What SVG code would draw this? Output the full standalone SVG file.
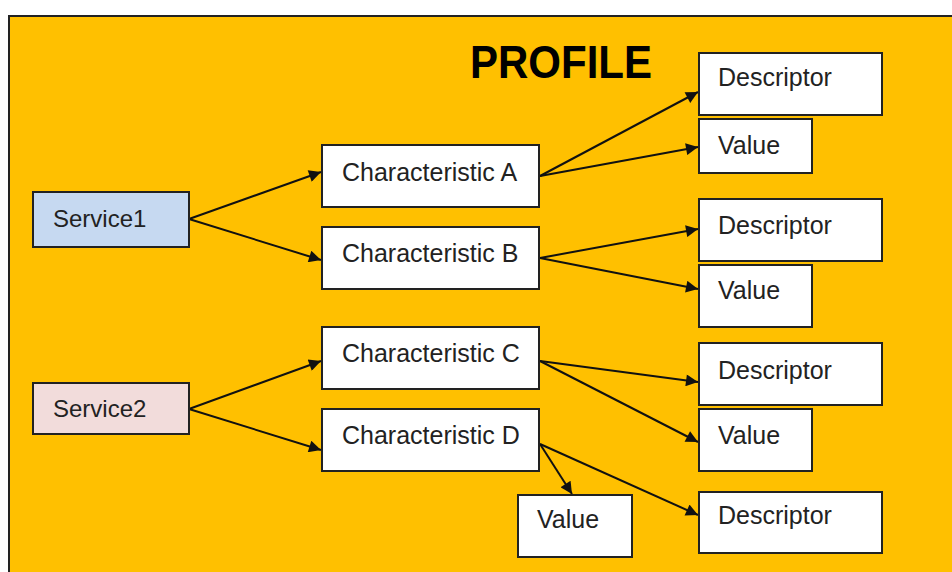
<svg xmlns="http://www.w3.org/2000/svg" width="952" height="572" viewBox="0 0 952 572">
<defs>
<style>
.bg{fill:#FFC000;stroke:#222;stroke-width:2}
.box{fill:#FFFFFF;stroke:#222;stroke-width:2}
.s1{fill:#C6D9F1;stroke:#222;stroke-width:2}
.s2{fill:#F2DCDB;stroke:#222;stroke-width:2}
.t{font-family:"Liberation Sans",Arial,sans-serif;font-size:25px;fill:#222}
.ts{font-family:"Liberation Sans",Arial,sans-serif;font-size:24px;fill:#222}
.title{font-family:"Liberation Sans",Arial,sans-serif;font-size:46px;font-weight:bold;fill:#000}
.c{stroke:#111;stroke-width:2;fill:none;marker-end:url(#arr)}
</style>
<marker id="arr" viewBox="0 0 10 10" refX="10" refY="5" markerWidth="7" markerHeight="6" markerUnits="strokeWidth" orient="auto">
<path d="M0,0 L10,5 L0,10 z" fill="#111"/>
</marker>
</defs>
<rect width="952" height="572" fill="#FFFFFF"/>
<rect class="bg" x="9" y="16" width="960" height="580"/>
<text class="title" x="470" y="78" textLength="182" lengthAdjust="spacingAndGlyphs">PROFILE</text>

<g id="connectors">
<line class="c" x1="189" y1="219" x2="321" y2="172"/>
<line class="c" x1="189" y1="219" x2="321" y2="260"/>
<line class="c" x1="189" y1="409" x2="321" y2="361"/>
<line class="c" x1="189" y1="409" x2="321" y2="450"/>
<line class="c" x1="540" y1="176" x2="698" y2="92"/>
<line class="c" x1="540" y1="176" x2="698" y2="147"/>
<line class="c" x1="540" y1="258" x2="698" y2="229"/>
<line class="c" x1="540" y1="258" x2="698" y2="289"/>
<line class="c" x1="540" y1="361" x2="698" y2="382"/>
<line class="c" x1="540" y1="361" x2="698" y2="442"/>
<line class="c" x1="540" y1="444" x2="698" y2="515"/>
<line class="c" x1="540" y1="444" x2="572" y2="494"/>
</g>

<g id="service1"><rect class="s1" x="33" y="192" width="156" height="55"/><text class="ts" x="53" y="227">Service1</text></g>
<g id="service2"><rect class="s2" x="33" y="383" width="156" height="51"/><text class="ts" x="53" y="417">Service2</text></g>

<g id="charA"><rect class="box" x="322" y="145" width="217" height="62"/><text class="t" x="342" y="181">Characteristic A</text></g>
<g id="charB"><rect class="box" x="322" y="227" width="217" height="62"/><text class="t" x="342" y="262">Characteristic B</text></g>
<g id="charC"><rect class="box" x="322" y="327" width="217" height="62"/><text class="t" x="342" y="362">Characteristic C</text></g>
<g id="charD"><rect class="box" x="322" y="409" width="217" height="62"/><text class="t" x="342" y="444">Characteristic D</text></g>

<g id="descA"><rect class="box" x="699" y="53" width="183" height="62"/><text class="t" x="718" y="86">Descriptor</text></g>
<g id="valueA"><rect class="box" x="699" y="119" width="113" height="54"/><text class="t" x="718" y="154">Value</text></g>
<g id="descB"><rect class="box" x="699" y="199" width="183" height="62"/><text class="t" x="718" y="234">Descriptor</text></g>
<g id="valueB"><rect class="box" x="699" y="265" width="113" height="62"/><text class="t" x="718" y="299">Value</text></g>
<g id="descC"><rect class="box" x="699" y="343" width="183" height="62"/><text class="t" x="718" y="379">Descriptor</text></g>
<g id="valueC"><rect class="box" x="699" y="409" width="113" height="62"/><text class="t" x="718" y="444">Value</text></g>
<g id="descD"><rect class="box" x="699" y="492" width="183" height="61"/><text class="t" x="718" y="524">Descriptor</text></g>
<g id="valueD"><rect class="box" x="518" y="495" width="114" height="62"/><text class="t" x="537" y="528">Value</text></g>
</svg>
